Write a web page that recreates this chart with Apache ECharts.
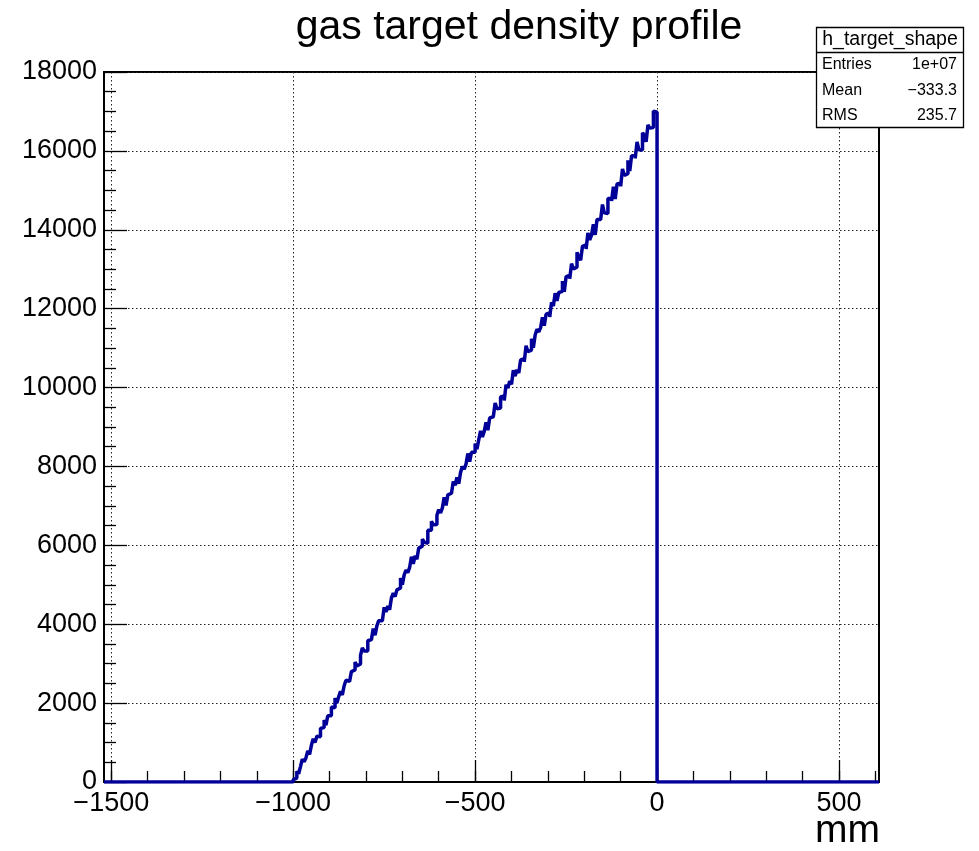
<!DOCTYPE html>
<html>
<head>
<meta charset="utf-8">
<script src="https://cdn.jsdelivr.net/npm/echarts@6/dist/echarts.min.js"></script>
<style>html,body{margin:0;padding:0;background:#fff}#c{width:979px;height:851px}</style>
</head>
<body>
<div id="c"></div>
<script>
// ---- data ----
const binStart = -1000;   // first filled bin (mm)
const binWidth = 5;       // mm
const binCounts = [
 60,100,270,210,390,580,510,610,790,700,
 930,1100,1000,1160,1150,1360,1380,1570,1440,1680,
 1680,1900,1880,2130,2000,2160,2300,2210,2440,2580,
 2550,2520,2800,2840,3040,2940,2990,3210,3400,3320,
 3320,3580,3610,3630,3890,3720,3960,4090,4090,4100,
 4430,4310,4460,4370,4670,4790,4700,4870,4920,5170,
 5000,5250,5370,5310,5440,5710,5530,5730,5650,5930,
 5980,6160,6080,6050,6380,6380,6610,6520,6530,6760,
 6910,6820,6950,7220,7010,7280,7320,7300,7620,7520,
 7720,7560,7850,8000,7930,8060,8330,8120,8360,8360,
 8580,8440,8680,8900,8750,8890,9120,8920,9230,9260,
 9250,9610,9460,9480,9760,9790,9670,10070,9990,10160,
 10080,10440,10290,10450,10370,10700,10730,10650,11060,10910,
 10950,11240,11010,11330,11480,11410,11520,11780,11570,11860,
 11890,11790,12160,12070,12390,12200,12410,12440,12700,12430,
 12810,12840,12760,13140,13010,13050,13430,13300,13230,13580,
 13620,13510,13920,13740,13870,14140,13870,14260,14260,14210,
 14640,14430,14410,14790,14790,14730,15090,14780,15160,15180,
 15100,15540,15380,15420,15760,15490,15880,15870,15810,16230,
 16030,16020,16460,16400,16230,16660,16580,16590,17010,16980
];
const xRange = [-1520, 610];
const yRange = [0, 18000];
const xMajorTicks = [-1500, -1000, -500, 0, 500];
const xMinorTicks = [-1500,-1400,-1300,-1200,-1100,-1000,-900,-800,-700,-600,-500,-400,-300,-200,-100,0,100,200,300,400,500,600];
const titleText = 'gas target density profile';
const xTitle = 'mm';
const statsName = 'h_target_shape';
const statsLabels = ['Entries', 'Mean', 'RMS'];
const statsValues = ['1e+07', '\u2212333.3', '235.7'];

// build histogram step data (bin left edge, count)
const histData = [[xRange[0], 0]];
binCounts.forEach((c, i) => histData.push([binStart + i * binWidth, c]));
histData.push([binStart + binCounts.length * binWidth, 0]);
histData.push([xRange[1], 0]);

const FONT = 'Liberation Sans, Arial, Helvetica, sans-serif';
const chart = echarts.init(document.getElementById('c'), null, {renderer: 'canvas'});
const fmt = v => v < 0 ? '\u2212' + Math.abs(v) : String(v);
const dotted = {color: '#222', width: 1, type: [1.5, 2.5]};

const statsGraphics = [
  {type: 'rect', shape: {x: 816.5, y: 27.5, width: 147, height: 100}, style: {fill: '#fff', stroke: '#000', lineWidth: 1.3}, z: 100},
  {type: 'line', shape: {x1: 816.5, y1: 52.5, x2: 963.5, y2: 52.5}, style: {stroke: '#000', lineWidth: 1.3}, z: 101},
  {type: 'text', x: 890, y: 40, style: {text: statsName, font: '19.5px ' + FONT, fill: '#000', align: 'center', verticalAlign: 'middle'}, z: 101}
];
statsLabels.forEach((lab, i) => {
  const yy = 65 + i * 25.5;
  statsGraphics.push({type: 'text', x: 822, y: yy, style: {text: lab, font: '16px ' + FONT, fill: '#000', align: 'left', verticalAlign: 'middle'}, z: 101});
  statsGraphics.push({type: 'text', x: 957, y: yy, style: {text: statsValues[i], font: '16px ' + FONT, fill: '#000', align: 'right', verticalAlign: 'middle'}, z: 101});
});

chart.setOption({
  animation: false,
  backgroundColor: '#fff',
  grid: {left: 104, right: 100, top: 72, bottom: 69, show: true, borderColor: '#000', borderWidth: 2, backgroundColor: 'transparent'},
  xAxis: [
    {
      type: 'value', min: xRange[0], max: xRange[1], position: 'bottom',
      axisLine: {show: true, onZero: false, lineStyle: {color: '#000', width: 2}},
      axisTick: {show: true, inside: true, length: 22, customValues: xMajorTicks, lineStyle: {color: '#000', width: 1.3}},
      axisLabel: {show: true, customValues: xMajorTicks, formatter: fmt, color: '#000', fontSize: 27, fontFamily: FONT, margin: 8},
      splitLine: {show: true, lineStyle: dotted},
      minorTick: {show: false}
    },
    {
      type: 'value', min: xRange[0], max: xRange[1], position: 'bottom',
      axisLine: {show: false, onZero: false},
      axisTick: {show: true, inside: true, length: 11, customValues: xMinorTicks, lineStyle: {color: '#000', width: 1.3}},
      axisLabel: {show: false},
      splitLine: {show: false}
    }
  ],
  yAxis: {
    type: 'value', min: yRange[0], max: yRange[1], interval: 2000, position: 'left',
    axisLine: {show: true, onZero: false, lineStyle: {color: '#000', width: 2}},
    axisTick: {show: true, inside: true, length: 23, lineStyle: {color: '#000', width: 1.3}},
    minorTick: {show: true, splitNumber: 4, length: 12, lineStyle: {color: '#000', width: 1.3}},
    axisLabel: {color: '#000', fontSize: 27, fontFamily: FONT, margin: 7, formatter: v => String(v)},
    splitLine: {show: true, lineStyle: dotted}
  },
  graphic: [
    {type: 'text', x: 519, y: 28, style: {text: titleText, font: '41px ' + FONT, fill: '#000', align: 'center', verticalAlign: 'middle'}, z: 100},
    {type: 'text', x: 880, y: 831, style: {text: xTitle, font: '39px ' + FONT, fill: '#000', align: 'right', verticalAlign: 'middle'}, z: 100}
  ].concat(statsGraphics),
  series: [{
    type: 'line', xAxisIndex: 0, step: 'end', data: histData, showSymbol: false, symbol: 'none',
    lineStyle: {color: '#000099', width: 3.5}, z: 5, clip: true
  }]
});
</script>
</body>
</html>
